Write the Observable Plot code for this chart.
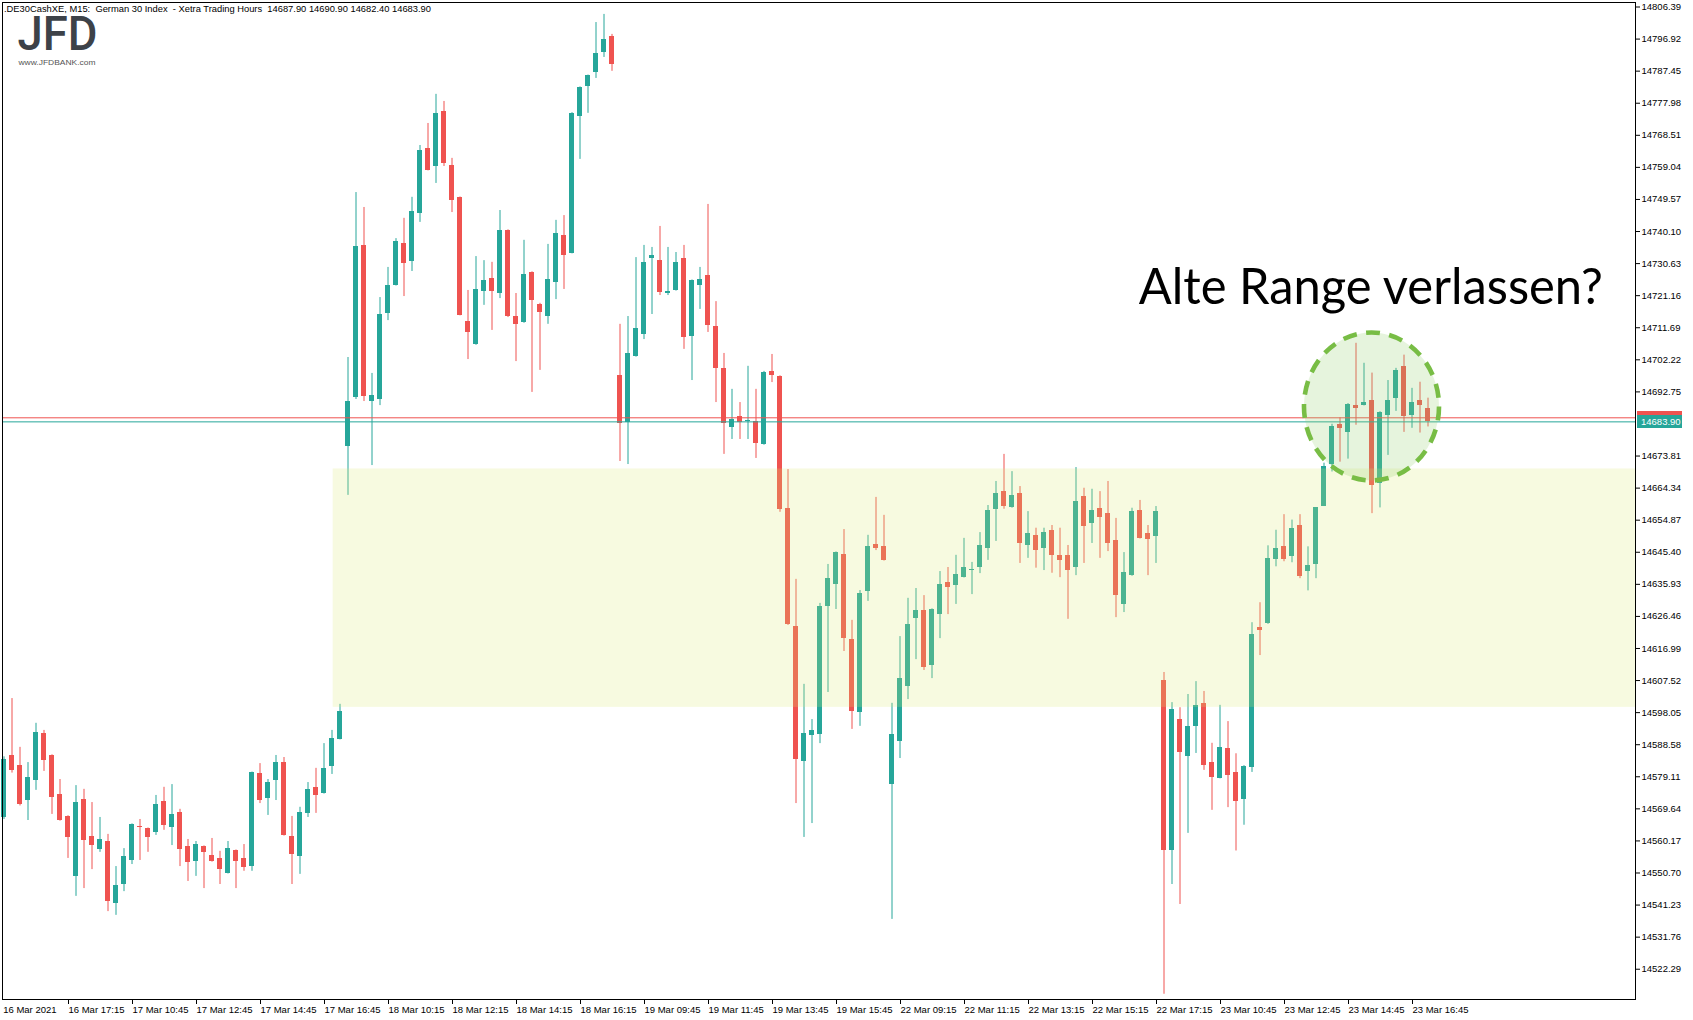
<!DOCTYPE html>
<html><head><meta charset="utf-8">
<script src="https://cdn.jsdelivr.net/npm/d3@7"></script>
<script src="https://cdn.jsdelivr.net/npm/@observablehq/plot@0.6"></script>
<style>
html,body{margin:0;padding:0;background:#fff;}
#chart{width:1693px;height:1020px;overflow:hidden;}
</style></head><body><div id="chart"></div>
<script>
// ---- Data (15-minute candles, .DE30CashXE, 16 Mar 15:15 → 23 Mar 17:15) ----
const open = [14567.2,14585.4,14582.5,14572.1,14578.0,14591.9,14585.4,14573.9,14567.4,14549.7,
14572.4,14561.5,14557.6,14560.0,14541.7,14547.3,14554.4,14564.4,14563.9,14562.7,
14571.8,14564.1,14568.6,14558.5,14554.1,14558.5,14555.9,14555.0,14550.6,14557.4,
14555.0,14552.6,14580.1,14572.7,14578.0,14583.3,14561.5,14555.6,14568.3,14576.0,
14574.2,14582.2,14590.1,14676.6,14691.1,14736.0,14689.9,14690.5,14715.9,14724.2,
14736.6,14731.3,14745.4,14764.6,14759.3,14775.5,14759.6,14750.2,14713.5,14706.7,
14722.4,14726.2,14721.8,14740.4,14715.0,14713.2,14728.0,14718.6,14715.0,14725.1,
14738.9,14733.6,14774.1,14782.9,14787.1,14793.0,14797.7,14697.6,14683.7,14703.2,
14709.7,14732.1,14731.6,14721.8,14722.7,14732.1,14709.1,14724.2,14727.1,14712.1,
14699.7,14682.2,14685.5,14684.2,14684.0,14677.2,14698.8,14697.3,14658.3,14623.5,
14583.6,14591.3,14591.6,14629.4,14635.9,14644.7,14619.6,14598.1,14633.8,14647.7,
14647.1,14576.8,14589.5,14605.8,14625.9,14628.2,14612.0,14627.0,14636.5,14635.6,
14638.0,14640.2,14640.9,14646.5,14658.0,14663.3,14658.6,14662.8,14647.4,14650.4,
14646.6,14651.8,14644.5,14644.5,14640.9,14661.8,14653.9,14658.4,14656.9,14648.9,
14630.0,14638.5,14657.7,14651.0,14650.0,14607.5,14557.4,14596.1,14585.1,14593.9,
14600.8,14583.3,14578.7,14587.5,14580.5,14572.5,14581.9,14623.1,14624.3,14643.2,
14647.0,14644.1,14653.4,14639.7,14641.7,14659.0,14671.3,14683.2,14680.8,14688.8,
14688.8,14690.3,14665.7,14685.9,14690.8,14700.3,14685.9,14690.3,14687.9];
const high = [14585.0,14602.2,14587.8,14583.3,14594.9,14592.8,14585.6,14578.3,14567.6,14576.5,
14575.4,14571.5,14567.1,14562.1,14552.6,14557.9,14565.2,14566.5,14564.0,14573.6,
14576.0,14576.8,14569.5,14560.6,14560.0,14558.7,14560.9,14557.1,14560.0,14557.5,
14559.1,14580.5,14583.0,14578.3,14585.4,14584.8,14567.4,14570.1,14577.4,14581.6,
14588.9,14592.8,14600.5,14702.9,14751.6,14747.2,14698.2,14720.6,14729.5,14738.0,
14744.0,14750.2,14765.5,14772.0,14780.6,14778.5,14761.7,14750.3,14722.7,14732.7,
14731.5,14731.0,14746.3,14740.6,14721.8,14737.5,14728.2,14718.9,14736.3,14743.4,
14744.8,14775.2,14782.8,14786.3,14801.8,14804.2,14798.3,14712.7,14715.0,14732.4,
14736.0,14735.4,14741.6,14735.4,14733.9,14736.0,14725.8,14729.5,14748.1,14719.4,
14704.1,14693.5,14689.6,14700.3,14693.5,14698.8,14703.8,14697.5,14669.8,14637.4,
14606.4,14596.0,14630.3,14641.8,14645.5,14652.1,14625.3,14634.1,14650.4,14661.6,
14656.3,14600.8,14620.5,14631.8,14634.7,14632.6,14628.7,14639.7,14640.9,14644.5,
14649.5,14642.4,14651.2,14659.2,14666.3,14674.3,14669.2,14664.8,14657.4,14652.5,
14652.5,14653.3,14652.5,14647.4,14670.4,14664.3,14664.0,14663.3,14666.3,14655.4,
14645.3,14658.4,14660.7,14653.3,14658.9,14609.9,14601.0,14599.5,14603.4,14607.2,
14604.3,14589.0,14600.2,14595.4,14585.9,14582.4,14624.6,14630.5,14647.3,14651.9,
14656.5,14654.9,14656.5,14647.0,14658.6,14671.7,14683.2,14685.1,14689.3,14707.1,
14701.2,14698.3,14686.9,14696.1,14699.7,14703.6,14693.8,14695.6,14690.9];
const low = [14566.5,14580.2,14570.5,14566.2,14575.1,14580.7,14568.0,14566.0,14555.0,14543.8,
14546.1,14551.7,14556.8,14539.3,14538.2,14545.2,14553.2,14554.4,14556.8,14561.8,
14563.3,14558.8,14552.6,14548.2,14549.7,14546.1,14553.9,14547.3,14550.4,14546.1,
14551.2,14551.2,14571.2,14567.7,14572.1,14561.6,14547.3,14550.3,14567.1,14568.3,
14574.0,14579.8,14590.0,14662.2,14690.5,14689.9,14671.0,14688.7,14713.8,14724.0,
14720.9,14728.3,14742.8,14758.0,14754.3,14759.3,14745.7,14715.2,14702.3,14706.5,
14718.3,14710.9,14720.3,14714.7,14701.7,14713.0,14692.6,14699.1,14712.7,14720.0,
14723.0,14733.5,14761.4,14775.0,14785.3,14791.5,14787.4,14672.2,14671.3,14703.0,
14708.2,14715.6,14721.2,14721.2,14722.5,14705.3,14696.1,14717.1,14710.3,14689.6,
14674.3,14678.7,14678.7,14678.7,14673.1,14677.0,14695.5,14657.2,14623.8,14571.2,
14561.2,14565.3,14588.9,14604.0,14628.5,14616.1,14593.1,14594.0,14630.9,14645.9,
14642.8,14537.0,14584.5,14601.9,14613.7,14610.5,14608.1,14619.9,14627.0,14630.0,
14637.8,14632.9,14639.1,14643.0,14648.6,14658.1,14658.4,14642.1,14643.6,14640.7,
14640.0,14639.2,14637.9,14625.6,14638.5,14642.1,14648.0,14643.6,14645.6,14626.1,
14627.6,14638.3,14649.3,14638.5,14642.1,14514.9,14547.3,14541.4,14562.4,14586.0,
14581.0,14569.2,14578.5,14570.0,14557.2,14564.8,14580.4,14614.9,14624.1,14641.1,
14642.6,14642.3,14637.6,14634.0,14637.6,14658.9,14669.1,14672.0,14672.9,14682.9,
14688.6,14656.8,14658.5,14674.0,14687.0,14680.8,14682.0,14680.6,14682.4];
const close = [14584.2,14581.0,14570.9,14578.9,14592.2,14583.9,14573.0,14566.2,14561.2,14571.5,
14560.3,14558.8,14560.6,14542.3,14547.0,14555.6,14565.0,14564.1,14561.2,14570.9,
14564.7,14568.0,14557.6,14553.8,14559.1,14556.8,14554.1,14551.7,14557.9,14554.1,
14552.3,14580.4,14572.1,14577.4,14583.3,14561.8,14556.2,14568.6,14575.4,14573.6,
14581.6,14590.4,14598.4,14689.9,14735.7,14691.4,14691.7,14715.6,14724.2,14737.2,
14730.7,14746.0,14764.0,14758.1,14775.0,14760.2,14749.3,14715.3,14710.3,14723.0,
14725.6,14722.4,14740.4,14715.0,14712.7,14727.4,14719.7,14716.2,14725.9,14739.5,
14733.0,14775.0,14782.6,14786.2,14792.7,14796.8,14789.4,14683.4,14704.1,14711.5,
14731.0,14733.0,14722.1,14722.4,14731.0,14708.8,14725.6,14725.9,14712.4,14699.7,
14683.4,14684.6,14683.7,14684.4,14677.5,14698.5,14697.6,14658.0,14624.1,14584.2,
14591.9,14592.8,14629.4,14637.7,14645.3,14619.9,14598.4,14633.2,14647.1,14646.5,
14643.0,14591.6,14608.1,14624.1,14628.2,14611.4,14628.5,14635.9,14635.0,14638.8,
14640.9,14640.4,14647.4,14657.7,14662.8,14658.9,14662.2,14648.0,14651.0,14645.9,
14651.2,14644.5,14643.0,14640.0,14660.4,14653.0,14657.7,14655.6,14648.0,14632.6,
14639.4,14657.4,14649.5,14649.2,14657.4,14557.4,14599.0,14586.2,14593.9,14600.2,
14582.4,14578.9,14587.7,14579.5,14571.7,14582.2,14621.1,14622.2,14643.5,14646.4,
14643.2,14652.3,14638.2,14641.4,14658.5,14670.8,14682.4,14682.0,14689.1,14687.9,
14689.7,14665.0,14686.8,14690.3,14699.1,14685.5,14689.7,14688.8,14683.9];

const xTickIndex = [8,16,24,32,40,48,56,64,72,80,88,96,104,112,120,128,136,144,152,160,168,176];
const xTickLabels = ["16 Mar 17:15","17 Mar 10:45","17 Mar 12:45","17 Mar 14:45","17 Mar 16:45",
"18 Mar 10:15","18 Mar 12:15","18 Mar 14:15","18 Mar 16:15","19 Mar 09:45","19 Mar 11:45",
"19 Mar 13:45","19 Mar 15:45","22 Mar 09:15","22 Mar 11:15","22 Mar 13:15","22 Mar 15:15",
"22 Mar 17:15","23 Mar 10:45","23 Mar 12:45","23 Mar 14:45","23 Mar 16:45"];
const firstDateLabel = "16 Mar 2021";
const yTickValues = [14806.39,14796.92,14787.45,14777.98,14768.51,14759.04,14749.57,14740.10,
14730.63,14721.16,14711.69,14702.22,14692.75,14673.81,14664.34,14654.87,14645.40,
14635.93,14626.46,14616.99,14607.52,14598.05,14588.58,14579.11,14569.64,14560.17,14550.70,
14541.23,14531.76,14522.29];
const bidPrice = 14683.90;
const askPrice = 14685.10;
const rangeTop = 14670.0, rangeBottom = 14599.6;
const rangeStartIndex = 41.15;
const headerText = ".DE30CashXE, M15:\u00a0\u00a0German 30 Index\u00a0\u00a0- Xetra Trading Hours\u00a0\u00a014687.90 14690.90 14682.40 14683.90";
const annotationText = "Alte Range verlassen?";

// ---- Build ----
const GREEN = "#26a69a", RED = "#ef5350";
const candles = open.map((o, i) => ({i, o, h: high[i], l: low[i], c: close[i]}));
const labelMap = new Map(xTickIndex.map((d, k) => [d, xTickLabels[k]]));
const col = d => d.c >= d.o ? GREEN : RED;
const bodyTop = d => Math.max(d.o, d.c);
const bodyBot = d => Math.min(Math.min(d.o, d.c), Math.max(d.o, d.c) - 0.32);

function ellipseMark(cx, cy, rxIdx, ryPts) {
  return (index, scales) => {
    const X = scales.x(cx), Y = scales.y(cy);
    const rx = scales.x(cx + rxIdx) - X, ry = scales.y(cy - ryPts) - Y;
    const g = d3.create("svg:g");
    g.append("ellipse").attr("cx", X).attr("cy", Y).attr("rx", rx).attr("ry", ry)
      .attr("fill", "rgb(150,208,112)").attr("fill-opacity", 0.24)
      .attr("stroke", "#78bd45").attr("stroke-width", 4.6)
      .attr("stroke-dasharray", "14 9.4");
    return g.node();
  };
}
function priceBox(value, color, label) {
  return (index, scales, values, dims) => {
    const y = Math.round(scales.y(value));
    const x0 = dims.width - dims.marginRight + 2;
    const g = d3.create("svg:g").attr("text-anchor", "start");
    g.append("rect").attr("x", x0).attr("y", y - 6).attr("width", 45).attr("height", 13).attr("fill", color);
    if (label) g.append("text").attr("x", x0 + 4).attr("y", y + 3.5).attr("fill", "#fff").attr("text-anchor", "start")
      .attr("font-size", "9.5px").attr("font-family", "'Liberation Sans', Arial, sans-serif").text(label);
    return g.node();
  };
}

const chart = Plot.plot({
  width: 1693, height: 1020,
  marginTop: 2, marginBottom: 21, marginLeft: 2, marginRight: 58,
  x: {domain: [-0.1875, 203.9375], axis: null},
  y: {domain: [14513.35, 14807.72], axis: null},
  style: {fontFamily: "'Liberation Sans', Arial, sans-serif", fontSize: "9.5px", background: "#fff", color: "#000"},
  marks: [
    Plot.ruleX(candles, {x: "i", y1: "l", y2: "h", stroke: col, strokeWidth: 1}),
    Plot.rect(candles, {x1: d => d.i - 0.3125, x2: d => d.i + 0.3125, y1: bodyTop, y2: bodyBot, fill: col, shapeRendering: "crispEdges"}),
    Plot.rect([{x1: rangeStartIndex, x2: 203.9375, y1: rangeBottom, y2: rangeTop}],
      {x1: "x1", x2: "x2", y1: "y1", y2: "y2", fill: "rgb(219,233,116)", fillOpacity: 0.22}),
    Plot.ruleY([askPrice], {stroke: RED, strokeWidth: 1}),
    Plot.ruleY([bidPrice], {stroke: GREEN, strokeWidth: 1}),
    ellipseMark(171.0, 14688.3, 8.44, 21.85),
    Plot.text([annotationText], {x: 141.85, y: 14723.6, text: d => d, textAnchor: "start",
      fontSize: 51, fontFamily: "Lato, 'Noto Sans', sans-serif", fill: "#000", className: "annot"}),
    Plot.text([headerText], {frameAnchor: "top-left", dx: 1.5, dy: 3, lineAnchor: "top", text: d => d, fontSize: 9.5, fill: "#000", className: "hdr"}),
    Plot.text(["JFD"], {frameAnchor: "top-left", dx: 15, dy: 13.2, lineAnchor: "top", text: d => d,
      fontSize: 49, fontWeight: 500, fontFamily: "Roboto, sans-serif", fill: "#3d4248", className: "logo"}),
    Plot.text(["www.JFDBANK.com"], {frameAnchor: "top-left", dx: 16, dy: 57.3, lineAnchor: "top", text: d => d,
      fontSize: 8, fontFamily: "'Liberation Sans', Arial, sans-serif", fill: "#555", className: "logosub"}),
    Plot.axisX(xTickIndex, {anchor: "bottom", tickSize: 5, tickPadding: 2, textAnchor: "start", dx: 0.5,
      tickFormat: d => labelMap.get(d), fontSize: 9.5, fill: "#000", stroke: "#000"}),
    Plot.axisX([-0.1], {anchor: "bottom", tickSize: 0, tickPadding: 7, textAnchor: "start",
      tickFormat: () => firstDateLabel, fontSize: 9.5, fill: "#000"}),
    Plot.axisY(yTickValues, {anchor: "right", tickSize: 4, tickPadding: 2, tickFormat: d => d.toFixed(2),
      fontSize: 9.5, fill: "#000", stroke: "#000"}),
    Plot.frame({stroke: "#000", strokeWidth: 1}),
    priceBox(askPrice, RED, null),
    priceBox(bidPrice, GREEN, bidPrice.toFixed(2))
  ]
});
document.getElementById("chart").appendChild(chart);
// fit widths of a few texts to the reference
const fit = (cls, len) => chart.querySelectorAll("g." + cls + " text").forEach(t => {
  t.setAttribute("textLength", len); t.setAttribute("lengthAdjust", "spacingAndGlyphs");
});
fit("annot", 464);
fit("hdr", 427);
fit("logo", 80);
fit("logosub", 77);
</script>
</body></html>
